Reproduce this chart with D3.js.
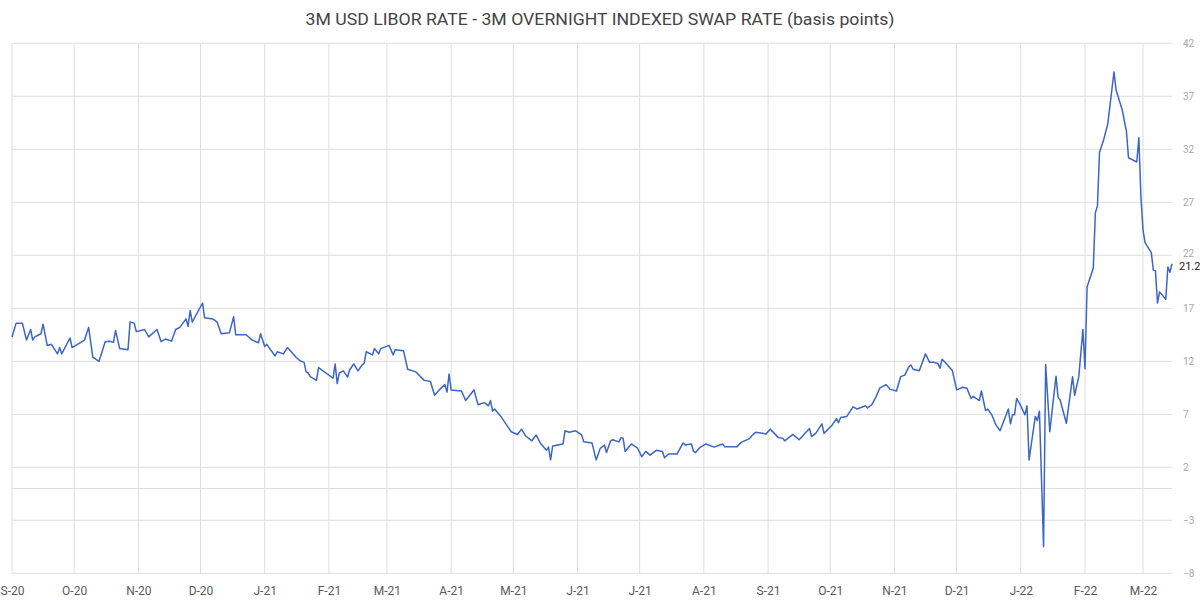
<!DOCTYPE html>
<html><head><meta charset="utf-8">
<script src="https://cdn.jsdelivr.net/npm/d3@7"></script>
<style>body{margin:0;background:#fff;} svg{display:block;}</style>
</head><body>
<svg id="chart" width="1200" height="601"></svg>
<script>
const chartTitle = "3M USD LIBOR RATE - 3M OVERNIGHT INDEXED SWAP RATE (basis points)";
const dates = [
"2020-09-01","2020-09-03","2020-09-06","2020-09-08","2020-09-10","2020-09-11","2020-09-12","2020-09-15","2020-09-16","2020-09-18",
"2020-09-20","2020-09-23","2020-09-24","2020-09-25","2020-09-29","2020-09-30","2020-10-06","2020-10-08","2020-10-10","2020-10-13",
"2020-10-16","2020-10-18","2020-10-20","2020-10-21","2020-10-23","2020-10-27","2020-10-28","2020-10-30","2020-10-31","2020-11-04",
"2020-11-06","2020-11-10","2020-11-12","2020-11-14","2020-11-17","2020-11-19","2020-11-21","2020-11-24","2020-11-25","2020-11-26",
"2020-11-27","2020-12-02","2020-12-03","2020-12-07","2020-12-09","2020-12-11","2020-12-15","2020-12-17","2020-12-18","2020-12-23",
"2020-12-26","2020-12-29","2020-12-30","2021-01-01","2021-01-02","2021-01-06","2021-01-07","2021-01-10","2021-01-12","2021-01-16",
"2021-01-18","2021-01-20","2021-01-21","2021-01-22","2021-01-23","2021-01-26","2021-01-27","2021-02-03","2021-02-04","2021-02-05",
"2021-02-06","2021-02-08","2021-02-10","2021-02-11","2021-02-13","2021-02-15","2021-02-17","2021-02-18","2021-02-19","2021-02-22",
"2021-02-23","2021-02-25","2021-02-26","2021-03-02","2021-03-04","2021-03-05","2021-03-09","2021-03-11","2021-03-15","2021-03-19",
"2021-03-22","2021-03-24","2021-03-27","2021-03-29","2021-03-30","2021-03-31","2021-04-01","2021-04-06","2021-04-08","2021-04-12",
"2021-04-14","2021-04-17","2021-04-19","2021-04-20","2021-04-21","2021-04-22","2021-04-25","2021-04-30","2021-05-03","2021-05-05",
"2021-05-07","2021-05-10","2021-05-12","2021-05-14","2021-05-17","2021-05-18","2021-05-19","2021-05-20","2021-05-25","2021-05-26",
"2021-05-28","2021-05-31","2021-06-03","2021-06-04","2021-06-08","2021-06-10","2021-06-12","2021-06-14","2021-06-15","2021-06-17",
"2021-06-18","2021-06-21","2021-06-22","2021-06-23","2021-06-24","2021-06-27","2021-06-30","2021-07-02","2021-07-04","2021-07-06",
"2021-07-09","2021-07-12","2021-07-13","2021-07-15","2021-07-19","2021-07-22","2021-07-23","2021-07-26","2021-07-27","2021-07-28",
"2021-07-30","2021-08-02","2021-08-06","2021-08-10","2021-08-11","2021-08-17","2021-08-19","2021-08-23","2021-08-24","2021-08-26",
"2021-08-31","2021-09-02","2021-09-06","2021-09-08","2021-09-09","2021-09-13","2021-09-16","2021-09-21","2021-09-22","2021-09-24",
"2021-09-27","2021-09-28","2021-10-02","2021-10-04","2021-10-05","2021-10-06","2021-10-09","2021-10-12","2021-10-14","2021-10-18",
"2021-10-19","2021-10-21","2021-10-23","2021-10-25","2021-10-28","2021-10-30","2021-11-02","2021-11-04","2021-11-06","2021-11-08",
"2021-11-09","2021-11-10","2021-11-13","2021-11-16","2021-11-18","2021-11-20","2021-11-22","2021-11-23","2021-11-24","2021-11-26",
"2021-11-29","2021-12-01","2021-12-04","2021-12-06","2021-12-08","2021-12-09","2021-12-12","2021-12-13","2021-12-15","2021-12-16",
"2021-12-18","2021-12-20","2021-12-22","2021-12-26","2021-12-27","2021-12-28","2021-12-29","2021-12-30","2022-01-01","2022-01-03",
"2022-01-04","2022-01-05","2022-01-08","2022-01-09","2022-01-10","2022-01-12","2022-01-13","2022-01-15","2022-01-18","2022-01-19",
"2022-01-20","2022-01-23","2022-01-26","2022-01-27","2022-01-29","2022-01-31","2022-02-01","2022-02-02","2022-02-05","2022-02-06",
"2022-02-07","2022-02-08","2022-02-10","2022-02-12","2022-02-15","2022-02-16","2022-02-19","2022-02-21","2022-02-22","2022-02-26",
"2022-02-27","2022-02-28","2022-03-01","2022-03-02","2022-03-05","2022-03-06","2022-03-07","2022-03-08","2022-03-09","2022-03-12",
"2022-03-13","2022-03-14","2022-03-15"
];
const spreadBp = [
14.3,15.6,15.6,14.0,15.0,14.0,14.3,14.6,15.5,13.5,
13.6,12.7,13.3,12.7,14.2,13.3,14.0,15.2,12.4,12.0,
13.85,13.9,13.8,14.9,13.2,13.1,15.7,15.6,14.8,15.0,
14.3,15.0,13.85,14.1,13.9,15.0,15.2,16.0,15.3,16.8,
15.7,17.5,16.1,16.0,15.7,14.6,14.7,16.2,14.5,14.5,
14.0,13.75,14.6,13.4,13.6,12.5,12.9,12.7,13.3,12.4,
12.05,11.9,11.0,10.9,10.55,10.2,11.4,10.4,11.75,9.9,
10.9,11.1,10.5,11.2,11.75,11.1,11.65,11.8,12.9,12.6,
13.2,12.7,13.2,13.5,12.6,13.1,13.0,11.25,11.0,10.2,
10.1,8.8,9.45,9.8,9.1,10.8,9.3,9.2,8.3,9.3,
7.9,8.1,7.8,8.3,7.3,7.5,6.8,5.35,5.1,5.6,
4.95,4.5,5.05,4.3,3.6,3.9,2.7,4.0,4.2,5.45,
5.3,5.45,5.05,4.4,4.3,2.7,3.8,4.1,3.4,4.5,
4.6,4.4,4.8,4.75,3.5,4.2,3.8,3.0,3.5,3.15,
3.6,3.5,2.9,3.25,3.25,4.3,4.1,4.2,3.5,3.4,
3.85,4.2,3.9,4.2,3.95,3.95,4.35,4.7,4.95,5.3,
5.15,5.6,4.8,4.75,4.5,5.1,4.6,5.65,4.9,5.2,
6.1,5.2,6.0,6.6,6.2,6.7,6.8,7.7,7.5,7.8,
7.6,7.9,8.6,9.5,9.8,9.35,9.2,10.55,10.7,11.5,
11.65,11.25,11.1,12.7,11.9,11.9,11.8,11.35,12.2,11.8,
11.1,9.3,9.55,9.45,8.5,8.7,8.3,9.2,7.35,7.5,
6.95,6.0,5.45,7.5,6.1,6.95,6.95,8.5,7.8,6.95,
7.8,2.7,6.8,6.4,7.3,-5.5,11.7,5.35,10.6,8.6,
8.35,6.15,10.55,8.8,10.55,15.0,11.3,19.0,20.8,26.0,
26.65,31.7,32.9,34.4,39.3,37.6,35.7,33.7,31.2,30.8,
33.1,27.5,24.4,23.2,22.25,20.6,20.55,17.5,18.55,17.85,
20.9,20.4,21.2
];
const yTickValues = [-8,-3,2,7,12,17,22,27,32,37,42];
const xTickLabels = ["S-20","O-20","N-20","D-20","J-21","F-21","M-21","A-21","M-21","J-21","J-21","A-21","S-21","O-21","N-21","D-21","J-22","F-22","M-22"];
const lastValueLabel = "21.2";

const parse = d3.timeParse("%Y-%m-%d");
const data = dates.map((d,i)=>({date:parse(d), value:spreadBp[i]}));

const svg = d3.select("#chart");
const x = d3.scaleTime().domain([parse("2020-09-01"), parse("2022-03-15")]).range([12,1172]);
const y = d3.scaleLinear().domain([-8,42]).range([573.3,43.3]);

const grid = svg.append("g");
const monthTicks = d3.timeMonth.range(parse("2020-09-01"), parse("2022-03-15"));
grid.selectAll("line.v").data(monthTicks).join("line")
  .attr("x1",d=>x(d)).attr("x2",d=>x(d)).attr("y1",y(42)).attr("y2",y(-8))
  .attr("stroke","#dedede").attr("stroke-width",1);
grid.selectAll("line.h").data(yTickValues.concat([0])).join("line")
  .attr("x1",x.range()[0]).attr("x2",x.range()[1]).attr("y1",d=>y(d)).attr("y2",d=>y(d))
  .attr("stroke","#dedede").attr("stroke-width",1);

// y axis labels (right)
const yAxis = d3.axisRight(y).tickValues(yTickValues).tickSize(0).tickPadding(11);
const gy = svg.append("g").attr("transform",`translate(${x.range()[1]},0)`).call(yAxis);
gy.select(".domain").remove();
gy.selectAll("text").attr("fill","#a8a8a8").style("font-family","Roboto, sans-serif").style("font-size","10px");
gy.selectAll(".tick").filter(d=>d===22).select("text").attr("dy","0.1em");

// x axis labels
const xAxis = d3.axisBottom(x).tickValues(monthTicks).tickSize(0).tickPadding(13)
  .tickFormat((d,i)=>xTickLabels[i]);
const gx = svg.append("g").attr("transform",`translate(0,${y(-8)})`).call(xAxis);
gx.select(".domain").remove();
gx.selectAll("text").attr("fill","#5a5a5a").style("font-family","Roboto, sans-serif").style("font-size","12px");

// line
const line = d3.line().x(d=>x(d.date)).y(d=>y(d.value));
svg.append("path").datum(data).attr("d",line).attr("fill","none")
  .attr("stroke","#3c66c4").attr("stroke-width",1.5).attr("stroke-linejoin","round");

// last value label
const last = data[data.length-1];
svg.append("text").attr("x",x(last.date)+7).attr("y",y(last.value)).attr("dy","0.55em")
  .attr("fill","#222").style("font-family","Roboto, sans-serif").style("font-size","11px")
  .text(lastValueLabel);

// title
svg.append("text").attr("x",600).attr("y",25).attr("text-anchor","middle")
  .attr("fill","#444").style("font-family","Roboto, sans-serif").style("font-size","17px")
  .attr("textLength",589).attr("lengthAdjust","spacingAndGlyphs")
  .text(chartTitle);
</script>
</body></html>
